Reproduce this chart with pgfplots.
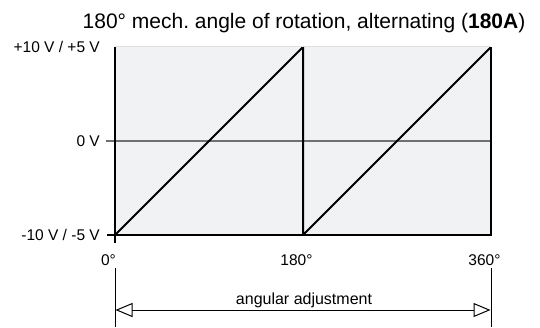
\documentclass[border=0pt]{standalone}
\usepackage{fontspec}
\setmainfont{Liberation Sans}
\usepackage{pgfplots}
\pgfplotsset{compat=1.18}
\usetikzlibrary{arrows.meta}
\definecolor{bgfill}{RGB}{241,242,244}
\definecolor{topedge}{RGB}{222,223,226}
\definecolor{zeroline}{RGB}{112,112,112}

\begin{document}
\begin{tikzpicture}[x=1pt,y=1pt]
  % 1 pt = 1 px of the reference; axis box 376 x 188
  \useasboundingbox (-115,-92) rectangle (425,235);
  \begin{axis}[
      at={(0,0)}, anchor=south west,
      scale only axis, width=376pt, height=188pt,
      xmin=0, xmax=360, ymin=-10, ymax=10,
      clip=false,
      axis background/.style={fill=bgfill},
      axis line style={draw=none},
      major tick length=0pt,
      xtick={0,180,360},
      xticklabels={0°,180°,360°},
      ytick={-10,0,10},
      yticklabels={-10 V / -5 V,0 V,+10 V / +5 V},
      ticklabel style={font=\fontsize{15.5}{18}\selectfont, inner sep=0pt},
      xticklabel style={anchor=base, yshift=-30pt, xshift=-6.5pt},
      yticklabel style={anchor=base east, xshift=-15pt, yshift=-5pt},
    ]
    % zero line
    \addplot[zeroline, line width=1.5pt] coordinates {(0,0) (360,0)};
    % sawtooth, 180 deg period
    \addplot[black, line width=2pt, line join=bevel] coordinates {
      (0,-10) (180,10) (180,-10) (360,10)
    };
  \end{axis}
  % frame
  \draw[topedge, line width=1pt] (0,188) -- (376,188);
  \draw[zeroline, line width=1.5pt] (-9,94) -- (0,94);
  \draw[black, line width=1.6pt] (0,188) -- (0,-8);
  \draw[black, line width=1.6pt] (-8,0) -- (376,0) -- (376,188);
  % title
  \node[anchor=base, inner sep=0pt, font=\fontsize{21}{25}\selectfont]
    at (189,206.5) {180° mech.\ angle of rotation, alternating (\textbf{180A})};
  % dimension
  \draw[black, line width=1pt] (0,-33) -- (0,-92);
  \draw[black, line width=1pt] (376,-33) -- (376,-92);
  \draw[black, line width=1pt,
        {Triangle[open, length=17pt, width=14pt]}-{Triangle[open, length=17pt, width=14pt]}]
    (0.5,-75) -- (375.5,-75);
  \node[anchor=base, inner sep=0pt, font=\fontsize{16}{19}\selectfont]
    at (189,-69) {angular adjustment};
\end{tikzpicture}
\end{document}
